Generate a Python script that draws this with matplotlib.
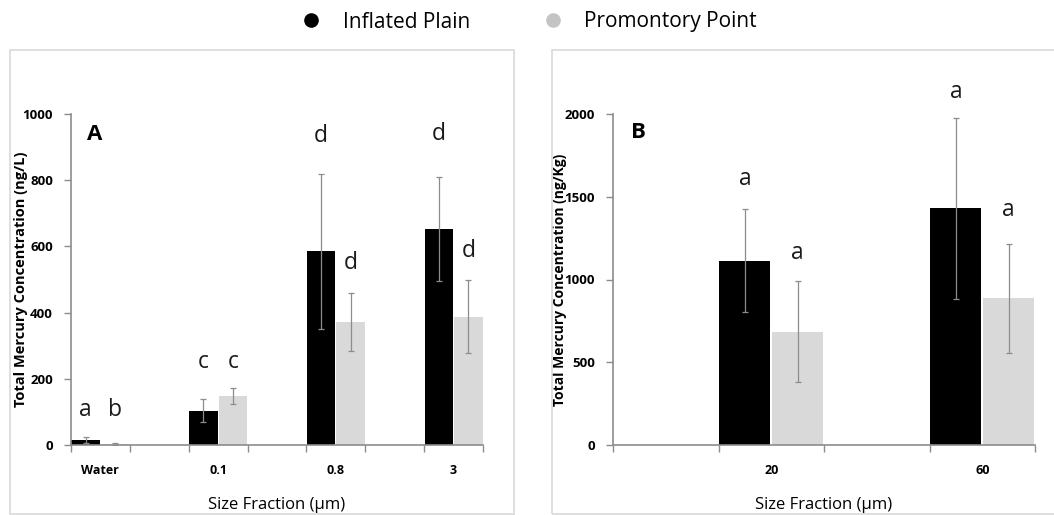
import matplotlib
matplotlib.use("Agg")
import matplotlib.pyplot as plt
from matplotlib.patches import Rectangle
from matplotlib.lines import Line2D
import numpy as np

plt.rcParams['font.family'] = ['Open Sans', 'DejaVu Sans']

# ---- Data ----
series = ["Inflated Plain", "Promontory Point"]
colors = ["#000000", "#d9d9d9"]

cats_A = ["Water", "0.1", "0.8", "3"]
ip_A = [15, 103, 585, 652]
ip_A_err = [8, 35, 235, 157]
pp_A = [3, 148, 372, 388]
pp_A_err = [2, 25, 88, 110]
ip_A_letters = ["a", "c", "d", "d"]
pp_A_letters = ["b", "c", "d", "d"]
ip_A_letter_y = [105, 250, 935, 940]
pp_A_letter_y = [105, 250, 550, 585]

cats_B = ["20", "60"]
ip_B = [1114, 1430]
ip_B_err = [310, 545]
pp_B = [685, 886]
pp_B_err = [307, 330]
ip_B_letters = ["a", "a"]
pp_B_letters = ["a", "a"]
ip_B_letter_y = [1605, 2133]
pp_B_letter_y = [1158, 1420]

W, H = 1054, 515
fig = plt.figure(figsize=(W / 100, H / 100), dpi=100)

def frac(x0, y0, x1, y1):
    return [x0 / W, 1 - y1 / H, (x1 - x0) / W, (y1 - y0) / H]

# panel boxes
for (x0, x1) in [(10, 514), (552, 1060)]:
    fig.add_artist(Rectangle((x0 / W, 1 - 514 / H), (x1 - x0) / W, (514 - 50) / H,
                             transform=fig.transFigure, fill=False,
                             edgecolor="#d9d9d9", linewidth=1.2))

axA = fig.add_axes(frac(71, 114, 483, 445))
axB = fig.add_axes(frac(613, 114, 1035, 445))

def draw(ax, cats, ip, ipe, pp, ppe, ipl, ppl, ipy, ppy, step, offset, nslots,
         ymax, yticks, ylabel, panel, panel_xy, ylab_x, ylab_fs):
    pos = np.arange(len(cats)) * step + offset
    w = 0.5
    err_kw = dict(ecolor="#8c8c8c", elinewidth=0.9, capsize=2.5, capthick=0.9)
    ax.bar(pos - w / 2, ip, width=w * 0.97, color=colors[0], yerr=ipe,
           error_kw=err_kw, zorder=2)
    ax.bar(pos + w / 2, pp, width=w * 0.97, color=colors[1], yerr=ppe,
           error_kw=err_kw, zorder=2)
    for p, l, y in zip(pos, ipl, ipy):
        ax.text(p - w / 2, y, l, ha="center", va="center", fontsize=16.5,
                color="#1a1a1a", clip_on=False)
    for p, l, y in zip(pos, ppl, ppy):
        ax.text(p + w / 2, y, l, ha="center", va="center", fontsize=16.5,
                color="#1a1a1a", clip_on=False)
    ax.set_xlim(-0.5, nslots - 0.5)
    ax.set_ylim(0, ymax)
    ax.set_yticks(yticks)
    ax.set_yticklabels([str(t) for t in yticks], fontsize=9.5, fontweight="bold")
    ax.set_xticks(pos)
    ax.set_xticklabels(cats, fontsize=9, fontweight="bold")
    ax.set_xticks(np.arange(nslots + 1) - 0.5, minor=True)
    ax.tick_params(axis="x", which="major", length=0, pad=14)
    ax.tick_params(axis="x", which="minor", length=5, color="#8c8c8c", width=1)
    ax.tick_params(axis="y", length=5, color="#8c8c8c", width=1, pad=8)
    for s in ["top", "right"]:
        ax.spines[s].set_visible(False)
    for s in ["left", "bottom"]:
        ax.spines[s].set_color("#8c8c8c")
        ax.spines[s].set_linewidth(1.2)
    ax.set_ylabel(ylabel, fontsize=ylab_fs, fontweight="bold")
    ax.yaxis.set_label_coords(ylab_x, 0.5)
    ax.set_xlabel("Size Fraction (µm)", fontsize=12, labelpad=14)
    ax.text(panel_xy[0], panel_xy[1], panel, transform=ax.transAxes,
            fontsize=16, fontweight="bold", ha="center", va="center")
    ax.patch.set_alpha(0)

draw(axA, cats_A, ip_A, ip_A_err, pp_A, pp_A_err, ip_A_letters, pp_A_letters,
     ip_A_letter_y, pp_A_letter_y, 2, 0, 7, 1000, [0, 200, 400, 600, 800, 1000],
     "Total Mercury Concentration (ng/L)", "A", ((95 - 71) / 412, (445 - 135) / 331),
     (28 - 71) / 412, 10.5)
draw(axB, cats_B, ip_B, ip_B_err, pp_B, pp_B_err, ip_B_letters, pp_B_letters,
     ip_B_letter_y, pp_B_letter_y, 2, 1, 4, 2000, [0, 500, 1000, 1500, 2000],
     "Total Mercury Concentration (ng/Kg)", "B", ((638 - 613) / 422, (445 - 133) / 331),
     (567 - 613) / 422, 10)

# legend at top
handles = [Line2D([], [], marker="o", linestyle="none", markersize=9.5,
                  markerfacecolor=c, markeredgecolor=c) for c in ["#000000", "#c4c4c4"]]
fig.legend(handles, series, loc="center", bbox_to_anchor=(529 / W, 1 - 22 / H),
           ncol=2, frameon=False, fontsize=15, handletextpad=1.0, columnspacing=3.5,
           handlelength=1.0)

fig.savefig("out.png", dpi=100)
